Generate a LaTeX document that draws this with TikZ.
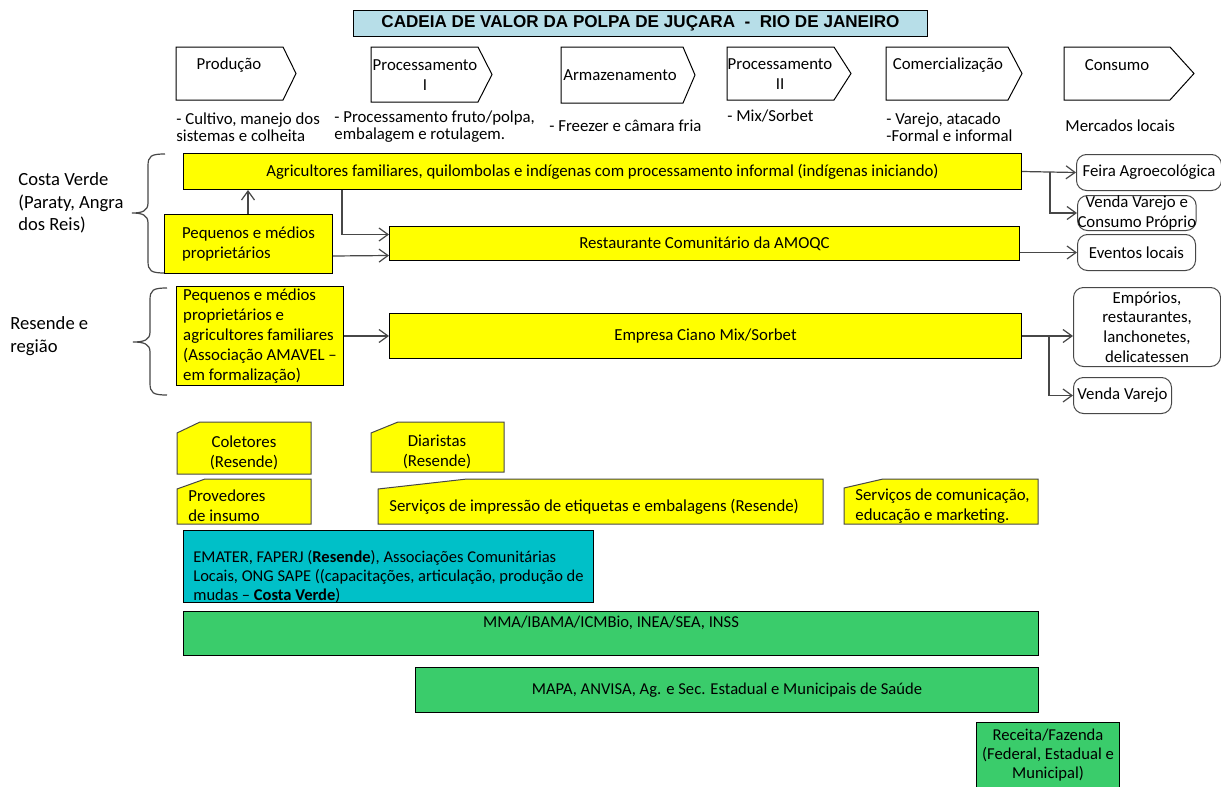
\documentclass[tikz,border=0pt]{standalone}
\usepackage{fontspec}
\setmainfont{Carlito}
\newfontfamily\titlefont{Liberation Sans}
\usetikzlibrary{positioning,arrows.meta,calc}
\definecolor{figyellow}{RGB}{255,255,0}
\definecolor{figcyan}{RGB}{0,192,200}
\definecolor{figgreen}{RGB}{58,204,107}
\definecolor{figtitle}{RGB}{183,222,232}
\definecolor{figline}{gray}{0.28}
\tikzset{
  fig/.style={font=\fontsize{8.4}{10}\selectfont,x=0.5pt,y=-0.5pt},
  sz/.style 2 args={minimum width={#1*0.5pt},minimum height={#2*0.5pt}},
  box/.style={draw=black,line width=0.5pt,inner sep=0pt,anchor=north west,align=center},
  ybox/.style={box,fill=figyellow},
  gbox/.style={box,fill=figgreen,font=\fontsize{8.3}{9.5}\selectfont},
  cbox/.style={box,fill=figcyan,align=left,font=\fontsize{8.25}{9.5}\selectfont},
  rbox/.style={box,draw=figline,rounded corners=5pt,fill=white},
  ln/.style={-{Straight Barb[length=4.5pt,width=6.5pt]},figline,line width=0.6pt},
  brc/.style={figline,line width=0.6pt},
  lbl/.style={inner sep=0pt,align=left,anchor=west},
}
\begin{document}
\begin{tikzpicture}[fig,
  stg/.style={draw=black,fill=white,line width=0.5pt},
  snp/.style={draw=figline,fill=figyellow,line width=0.5pt},
  dsc/.style={lbl,font=\fontsize{8.4}{8.4}\selectfont},
  reg/.style={lbl,font=\fontsize{9.3}{11.3}\selectfont}]

\path[use as bounding box,fill=white] (0,0) rectangle (1221,787);

% title
\node[box,fill=figtitle,sz={574}{26},font=\titlefont\bfseries\fontsize{8.55}{10}\selectfont]
  (title) at (353,10) {CADEIA DE VALOR DA POLPA DE JUÇARA~~-~~RIO DE JANEIRO};

% stages
\foreach \xa/\xb/\xc/\yb in {176/283/296/100,371/478/492/102,561/683/695/103,
                             727/834/851/100,886/1008/1022/100,1064/1170/1194/100}
  \draw[stg] (\xa,47) -- (\xb,47) -- (\xc,{(47+\yb)/2}) -- (\xb,\yb) -- (\xa,\yb) -- cycle;
\node[inner sep=0pt] (prod) at (229,65) {Produção};
\node[inner sep=0pt,align=center] (proc1) at (425,75) {Processamento\\I};
\node[inner sep=0pt] (arm) at (620,75) {Armazenamento};
\node[inner sep=0pt,align=center] (proc2) at (780,74) {Processamento\\II};
\node[inner sep=0pt] (com) at (948,65) {Comercialização};
\node[inner sep=0pt] (cons) at (1117,65) {Consumo};

\node[dsc] (dprod) at (176,127) {- Cultivo, manejo dos\\sistemas e colheita};
\node[dsc] (dproc1) at (334,127) {- Processamento fruto/polpa,\\embalagem e rotulagem.};
\node[dsc] (darm) at (549,126) {- Freezer e câmara fria};
\node[dsc] (dproc2) at (727,116) {- Mix/Sorbet};
\node[dsc] (dcom) at (886,127) {- Varejo, atacado\\-Formal e informal};
\node[dsc] (dcons) at (1065,126) {Mercados locais};

% regions
\node[reg] (cv) at (18,203) {Costa Verde\\(Paraty, Angra\\dos Reis)};
\node[reg] (rs) at (10,336) {Resende e\\região};
\draw[brc] (165,154) .. controls (151,154) and (148,156) .. (148,166) -- (148,203)
  .. controls (148,211) and (142,213) .. (132,213) .. controls (142,213) and (148,215) .. (148,223)
  -- (148,261) .. controls (148,271) and (151,273) .. (165,273);
\draw[brc] (167,288) .. controls (153,288) and (150,290) .. (150,300) -- (150,332)
  .. controls (150,340) and (144,342) .. (133,342) .. controls (144,342) and (150,344) .. (150,352)
  -- (150,383) .. controls (150,393) and (153,395) .. (167,395);

% Costa Verde chain
\node[ybox,sz={838}{36}] (agri) at (183,153)
  {Agricultores familiares, quilombolas e indígenas com processamento informal (indígenas iniciando)};
\node[ybox,sz={168}{59},align=left] (pcv) at (164,214) {Pequenos e médios\\proprietários};
\node[ybox,sz={630}{34}] (rest) at (389,226) {Restaurante Comunitário da AMOQC};

\node[rbox,sz={145}{36}] (feira) at (1076,154) {Feira Agroecológica};
\node[rbox,sz={117}{35}] (vcons) at (1077,195) {Venda Varejo e\\Consumo Próprio};
\node[rbox,sz={118}{36}] (evt) at (1077,234) {Eventos locais};

\coordinate (up) at ($(pcv.north west)+(84,0)$);
\coordinate (dn) at ($(agri.south west)+(159,0)$);
\draw[ln] (up) -- (up |- agri.south);
\draw[ln] (dn) |- ($(rest.west)+(0,-9)$);
\draw[ln] ($(pcv.east)+(0,12)$) -- ($(rest.west)+(0,12)$);
\draw[ln] (agri.east) -- (feira.west);
\draw[ln] ($(agri.east)+(28,0)$) |- (vcons.west);
\draw[ln] (rest.east |- evt.west) -- (evt.west);

% Resende chain
\node[ybox,sz={167}{99},align=left] (pres) at (176,286)
  {Pequenos e médios\\proprietários e\\agricultores familiares\\(Associação AMAVEL --\\em formalização)};
\node[ybox,sz={632}{45}] (emp) at (389,313) {Empresa Ciano Mix/Sorbet};
\node[rbox,sz={147}{79},font=\fontsize{8.4}{9.9}\selectfont] (empor) at (1073,287)
  {Empórios,\\restaurantes,\\lanchonetes,\\delicatessen};
\node[rbox,sz={98}{36}] (vvar) at (1073,377) {Venda Varejo};

\draw[ln] (pres.east |- emp.west) -- (emp.west);
\draw[ln] (emp.east) -- (emp.east -| empor.west);
\draw[ln] ($(emp.east)+(27,0)$) |- (vvar.west);

% support actors
\draw[snp] (200,422) -- (311,422) -- (311,474) -- (177,474) -- (177,433) -- cycle;
\draw[snp] (398,422) -- (504,422) -- (504,472) -- (371,472) -- (371,433) -- cycle;
\draw[snp] (205,479) -- (311,479) -- (311,524) -- (177,524) -- (177,489) -- cycle;
\draw[snp] (467,479) -- (823,479) -- (823,524) -- (378,524) -- (378,489) -- cycle;
\draw[snp] (883,479) -- (1038,479) -- (1038,524) -- (844,524) -- (844,488) -- cycle;
\node[inner sep=0pt,align=center] (colet) at (244,453) {Coletores\\(Resende)};
\node[inner sep=0pt,align=center] (diar) at (437,452) {Diaristas\\(Resende)};
\node[lbl] (prov) at (188,506) {Provedores\\de insumo};
\node[lbl] (impr) at (389,507) {Serviços de impressão de etiquetas e embalagens (Resende)};
\node[lbl] (comu) at (855,506) {Serviços de comunicação,\\educação e marketing.};

% institutions
\node[cbox,sz={410}{71}] (emater) at (183,530)
  {\rule{0pt}{16pt}EMATER, FAPERJ (\textbf{Resende}), Associações Comunitárias\\
   Locais, ONG SAPE ((capacitações, articulação, produção de\\
   mudas -- \textbf{Costa Verde})};
\node[gbox,sz={855}{44},text height=6pt,text depth=12pt] (mma) at (183,611)
  {MMA/IBAMA/ICMBio, INEA/SEA, INSS};
\node[gbox,sz={623}{45}] (mapa) at (415,667)
  {MAPA, ANVISA, Ag. e Sec. Estadual e Municipais de Saúde};
\node[gbox,sz={143}{66}] (receita) at (976,722)
  {Receita/Fazenda\\(Federal, Estadual e\\Municipal)};

\end{tikzpicture}
\end{document}
